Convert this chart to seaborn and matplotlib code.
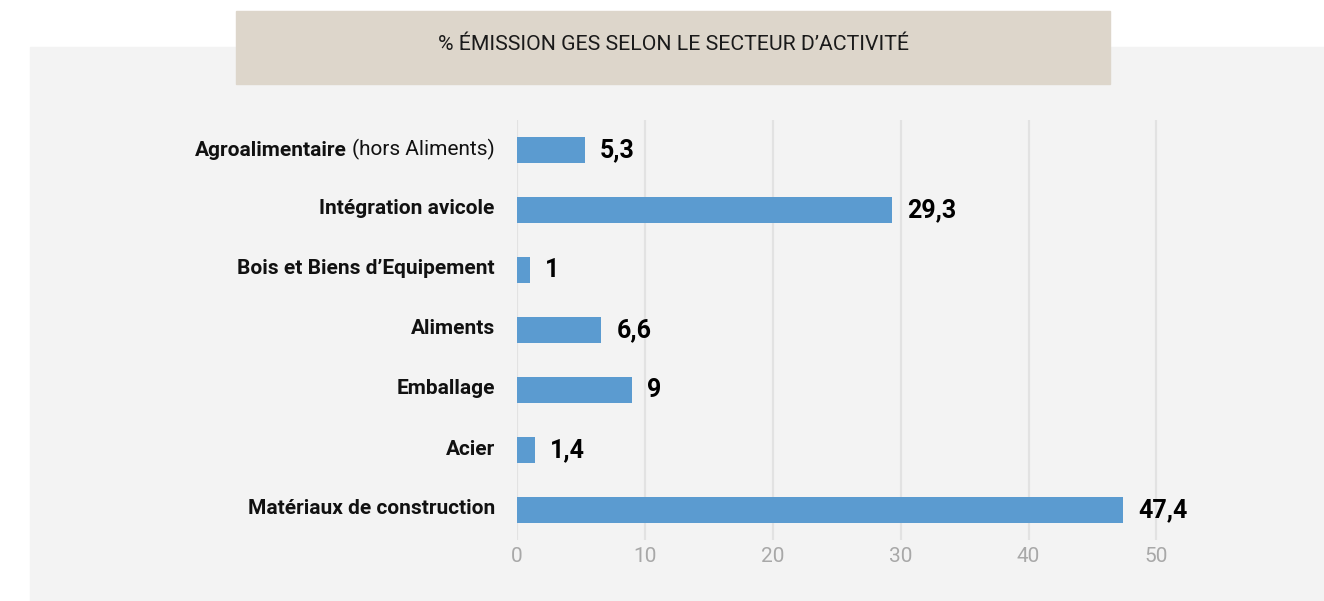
"""Horizontal bar chart: share of GHG emissions by activity sector."""

import matplotlib
import matplotlib.pyplot as plt
import seaborn as sns
from matplotlib.patches import Rectangle
from matplotlib.transforms import ScaledTranslation

matplotlib.use("Agg")

TITLE = "% ÉMISSION GES SELON LE SECTEUR D’ACTIVITÉ"

SECTORS = [
    "(hors Aliments)",
    "Intégration avicole",
    "Bois et Biens d’Equipement",
    "Aliments",
    "Emballage",
    "Acier",
    "Matériaux de construction",
]
FIRST_SECTOR_BOLD = "Agroalimentaire"
EMISSIONS = [5.3, 29.3, 1.0, 6.6, 9.0, 1.4, 47.4]
VALUE_LABELS = ["5,3", "29,3", "1", "6,6", "9", "1,4", "47,4"]
X_TICKS = [0, 10, 20, 30, 40, 50]

BAR_COLOR = "#5b9bd0"
PANEL_COLOR = "#f3f3f3"
TITLE_BOX_COLOR = "#ddd6cb"
GRID_COLOR = "#e2e2e2"
TICK_COLOR = "#a8a8a8"

W, H = 1324, 601


def main() -> None:
    sns.set_theme(style="white")
    plt.rcParams["font.family"] = ["Roboto", "DejaVu Sans"]

    fig = plt.figure(figsize=(W / 100, H / 100), dpi=100, facecolor="white")

    # background panel and title box (pixel positions from the top-left)
    fig.patches.append(
        Rectangle((30 / W, 0), 1 - 30 / W, (H - 47) / H,
                  transform=fig.transFigure, color=PANEL_COLOR, zorder=-3)
    )
    fig.patches.append(
        Rectangle((236 / W, (H - 84) / H), (1110 - 236) / W, 73 / H,
                  transform=fig.transFigure, color=TITLE_BOX_COLOR, zorder=-2)
    )
    fig.text((236 + 1110) / 2 / W, (H - 45) / H, TITLE, ha="center",
             va="center", fontsize=15.3, color="#1a1a1a")

    ax = fig.add_axes([517 / W, (H - 540) / H, 665 / W, 420 / H])
    ax.set_facecolor("none")
    ax.set_zorder(1)

    sns.barplot(x=EMISSIONS, y=SECTORS, orient="h", color=BAR_COLOR,
                saturation=1, width=0.43, linewidth=0, ax=ax, zorder=3)

    ax.set_xlim(0, 52)
    ax.set_ylim(6.5, -0.5)
    ax.set_xticks(X_TICKS)
    ax.grid(axis="x", color=GRID_COLOR, linewidth=1.6, zorder=0)
    ax.set_axisbelow(True)
    for spine in ax.spines.values():
        spine.set_visible(False)

    ax.tick_params(axis="x", length=0, pad=5, labelsize=15,
                   labelcolor=TICK_COLOR)
    ax.tick_params(axis="y", length=0, pad=16, labelsize=15,
                   labelcolor="#111111")
    nudge_up = ScaledTranslation(0, 3 / 100, fig.dpi_scale_trans)
    for i, label in enumerate(ax.get_yticklabels()):
        label.set_fontweight("normal" if i == 0 else "bold")
        label.set_transform(label.get_transform() + nudge_up)

    for i, (value, text) in enumerate(zip(EMISSIONS, VALUE_LABELS)):
        ax.annotate(text, xy=(value, i), xytext=(11, 0),
                    textcoords="offset points", ha="left", va="center",
                    fontsize=18, fontweight="bold", color="#000000")

    # bold lead-in for the first sector label
    fig.canvas.draw()
    first_label = ax.get_yticklabels()[0]
    ax.annotate(FIRST_SECTOR_BOLD, xy=(0, 0), xycoords=first_label,
                xytext=(-3.5, 0), textcoords="offset points",
                ha="right", va="bottom", fontsize=15, fontweight="bold",
                color="#111111", annotation_clip=False)

    fig.savefig("out.png", dpi=100, facecolor=fig.get_facecolor())
    plt.close(fig)


if __name__ == "__main__":
    main()
